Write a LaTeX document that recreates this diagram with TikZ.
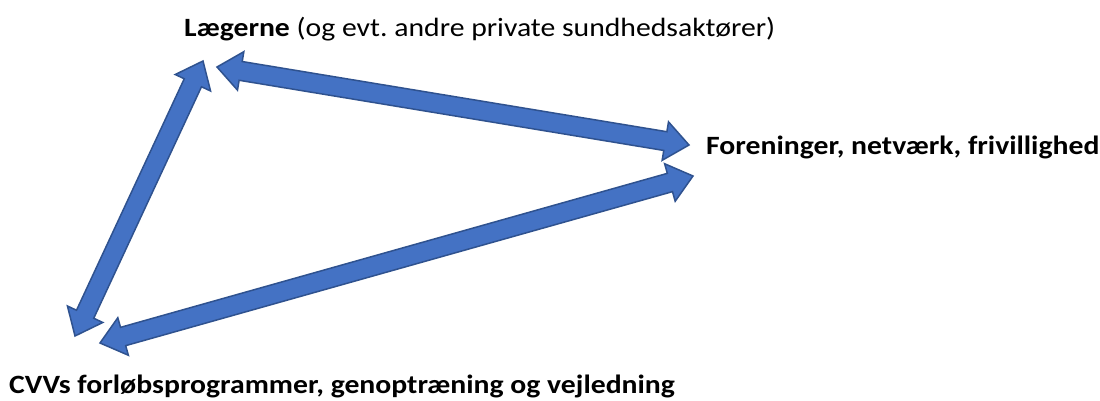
\documentclass[tikz,border=0pt]{standalone}
\usepackage{fontspec}
\setmainfont{Carlito}[FakeStretch=1.125]
\usetikzlibrary{calc}
\frenchspacing
\definecolor{arrowfill}{HTML}{4472C4}
\definecolor{arrowline}{HTML}{2F528F}
\tikzset{
	blockarrow/.style={fill=arrowfill, draw=arrowline, line width=1.5pt, line join=miter},
	label/.style={font=\fontsize{26.4}{30}\selectfont, inner sep=0pt, anchor=base west}
}
\def\headlen{24pt}
\def\headw{19.5pt}
\def\shaftw{9.5pt}
% double block arrow between two named coordinates
\newcommand{\dblarrow}[2]{%
	\coordinate (h1) at ($(#1)!\headlen!(#2)$);
	\coordinate (h2) at ($(#2)!\headlen!(#1)$);
	\draw[blockarrow] (#1) -- ($(h1)!\headw!90:(#2)$) -- ($(h1)!\shaftw!90:(#2)$)
		-- ($(h2)!\shaftw!-90:(#1)$) -- ($(h2)!\headw!-90:(#1)$) -- (#2)
		-- ($(h2)!\headw!90:(#1)$) -- ($(h2)!\shaftw!90:(#1)$)
		-- ($(h1)!\shaftw!-90:(#2)$) -- ($(h1)!\headw!-90:(#2)$) -- cycle;}
\begin{document}
\begin{tikzpicture}[x=1pt, y=-1pt]
	\useasboundingbox (0,0) rectangle (1100,401);
	% labels
	\node[label] (laeger) at (184,37) {\textbf{Lægerne} (og evt. andre private sundhedsaktører)};
	\node[label] (forening) at (706,154) {\textbf{Foreninger, netværk, frivillighed}};
	\node[label] (cvv) at (9,393) {\textbf{CVVs forløbsprogrammer, genoptræning og vejledning}};
	% arrow ends
	\coordinate (la) at (203,61);
	\coordinate (lb) at (217,67);
	\coordinate (fa) at (689,145);
	\coordinate (fb) at (693,176);
	\coordinate (ca) at (75,336);
	\coordinate (cb) at (100,343);
	% arrows
	\dblarrow{la}{ca}
	\dblarrow{lb}{fa}
	\dblarrow{fb}{cb}
\end{tikzpicture}
\end{document}
